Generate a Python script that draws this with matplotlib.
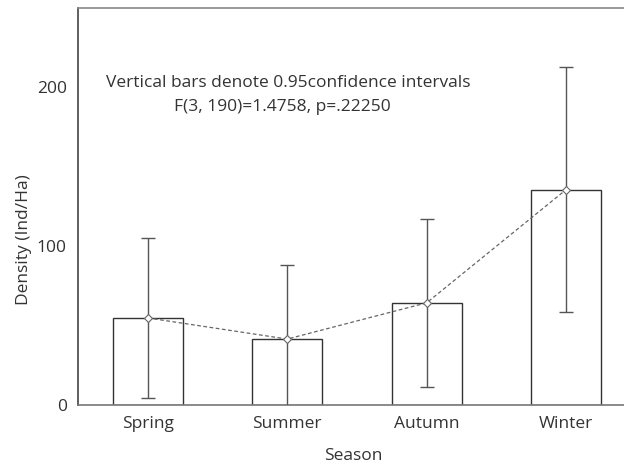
import matplotlib
matplotlib.use('Agg')
import matplotlib.pyplot as plt
import numpy as np

# data
seasons = ['Spring', 'Summer', 'Autumn', 'Winter']
density = [54.8, 41.5, 64.3, 135.6]
ci_half = [50.3, 46.8, 53.0, 76.9]
y_ticks = [0, 100, 200]

plt.rcParams.update({
    'font.family': ['Open Sans', 'DejaVu Sans'],
    'font.size': 12.5,
    'text.color': '#333333',
    'axes.labelcolor': '#333333',
    'xtick.color': '#333333',
    'ytick.color': '#333333',
})

fig = plt.figure(figsize=(6.24, 4.66), dpi=100)
ax = fig.add_axes([0.125, 0.131, 0.894, 0.852])

x = np.arange(len(seasons))
ax.bar(x, density, width=0.5, color='white', edgecolor='#333333', linewidth=1.0, zorder=2)
ax.errorbar(x, density, yerr=ci_half, fmt='none', ecolor='#555555',
            elinewidth=1.0, capsize=5, capthick=1.0, zorder=3)
ax.plot(x, density, linestyle=(0, (3, 2)), color='#666666', linewidth=0.9,
        marker='D', markersize=4, markerfacecolor='white',
        markeredgecolor='#666666', markeredgewidth=0.8, zorder=4)

ax.set_xlim(-0.5, 3.5)
ax.set_ylim(0, 250)
ax.set_xticks(x)
ax.set_xticklabels(seasons)
ax.set_yticks(y_ticks)
ax.tick_params(length=0, pad=8)

ax.spines['left'].set_color('#444444')
ax.spines['bottom'].set_color('#777777')
ax.spines['top'].set_color('#888888')
ax.spines['right'].set_visible(False)
for s in ax.spines.values():
    s.set_linewidth(1.2)

ax.set_xlabel('Season')
ax.xaxis.set_label_coords(0.493, -0.108)
ax.set_ylabel('Density (Ind/Ha)')
ax.yaxis.set_label_coords(-0.082, 0.416)

ax.text(0.377, 0.81, 'Vertical bars denote 0.95confidence intervals',
        transform=ax.transAxes, ha='center', va='center')
ax.text(0.366, 0.75, 'F(3, 190)=1.4758, p=.22250',
        transform=ax.transAxes, ha='center', va='center')

plt.savefig('out.png', dpi=100)
